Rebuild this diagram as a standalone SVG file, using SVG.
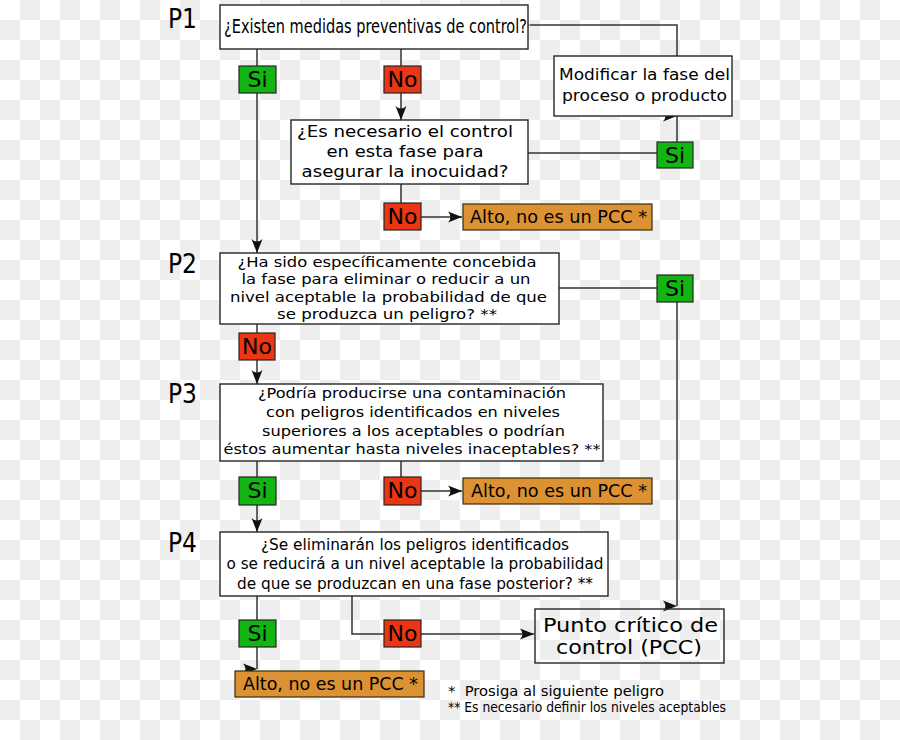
<svg xmlns="http://www.w3.org/2000/svg" width="900" height="740" viewBox="0 0 900 740">
<style>
.box{fill:#fff;stroke:#262626;stroke-width:1.4}
.open{fill:none;stroke:#262626;stroke-width:1.4}
.si{fill:#12b512;stroke:#262626;stroke-width:1.2}
.no{fill:#ec3512;stroke:#262626;stroke-width:1.2}
.alto{fill:#dc9233;stroke:#3a2a10;stroke-width:1.2}
.lbl{font-family:"DejaVu Sans","Liberation Sans",sans-serif;font-size:22px;fill:#000;text-anchor:middle}
.t{font-family:"DejaVu Sans","Liberation Sans",sans-serif;fill:#000;text-anchor:middle}
.c{font-family:"DejaVu Sans Condensed","DejaVu Sans","Liberation Sans",sans-serif;font-stretch:condensed;fill:#000}
.p{font-family:"DejaVu Sans Condensed","DejaVu Sans","Liberation Sans",sans-serif;font-stretch:condensed;font-size:26px;fill:#000}
.ln{fill:none;stroke:#333;stroke-width:1.5}
</style>
<defs>
<pattern id="chk" width="40" height="40" patternUnits="userSpaceOnUse">
<rect width="40" height="40" fill="#ffffff"/>
<rect x="20" y="0" width="20" height="20" fill="#eeeeee"/>
<rect x="0" y="20" width="20" height="20" fill="#eeeeee"/>
</pattern>
<marker id="arr" viewBox="-15 -6 16 12" markerWidth="16" markerHeight="12" refX="0" refY="0" orient="auto" markerUnits="userSpaceOnUse">
<path d="M0,0 L-14,-5.5 Q-9,0 -14,5.5 Z" fill="#111"/>
</marker>
<marker id="arrR" viewBox="-15 -6 16 12" markerWidth="16" markerHeight="12" refX="0" refY="0" orient="0" markerUnits="userSpaceOnUse">
<path d="M0,0 L-14,-5.5 Q-9,0 -14,5.5 Z" fill="#111"/>
</marker>
</defs>
<rect width="900" height="740" fill="url(#chk)"/>

<g id="labels">
<text class="p" x="168" y="28">P1</text>
<text class="p" x="168" y="273">P2</text>
<text class="p" x="168" y="403">P3</text>
<text class="p" x="168" y="552">P4</text>
</g>

<g id="connectors">
<path class="ln" d="M257,49 V66"/>
<path class="ln" d="M257,93 V253" marker-end="url(#arr)"/>
<path class="ln" d="M401,49 V66"/>
<path class="ln" d="M401,93 V120" marker-end="url(#arr)"/>
<path class="ln" d="M401,184 V203"/>
<path class="ln" d="M421,217 H462" marker-end="url(#arr)"/>
<path class="ln" d="M528,153 H657"/>
<path class="ln" d="M677,142 V116" marker-end="url(#arrR)"/>
<path class="ln" d="M677,56 V25 H530" marker-end="url(#arrR)"/>
<path class="ln" d="M559,288 H657"/>
<path class="ln" d="M677,302 V606" marker-end="url(#arrR)"/>
<path class="ln" d="M257,324 V333"/>
<path class="ln" d="M257,360 V384" marker-end="url(#arr)"/>
<path class="ln" d="M257,461 V477"/>
<path class="ln" d="M257,505 V532" marker-end="url(#arr)"/>
<path class="ln" d="M401,461 V477"/>
<path class="ln" d="M421,491 H462" marker-end="url(#arr)"/>
<path class="ln" d="M257,596 V620"/>
<path class="ln" d="M257,647 V669" marker-end="url(#arrR)"/>
<path class="ln" d="M352,596 V634 H384"/>
<path class="ln" d="M421,634 H534" marker-end="url(#arr)"/>
</g>

<g id="p1">
<rect class="box" x="220" y="5" width="308" height="44"/>
<text class="c" x="224" y="33" font-size="19" textLength="303" lengthAdjust="spacingAndGlyphs">¿Existen medidas preventivas de control?</text>
</g>
<g id="p1-si">
<rect class="si" x="239" y="66" width="37" height="27"/>
<text class="lbl" x="257.5" y="87">Si</text>
</g>
<g id="p1-no">
<rect class="no" x="384" y="66" width="37" height="27"/>
<text class="lbl" x="402.5" y="87">No</text>
</g>
<g id="q-necesario">
<rect class="box" x="291" y="120" width="237" height="64"/>
<text class="t" x="405" y="137" font-size="15" textLength="216" lengthAdjust="spacingAndGlyphs">¿Es necesario el control</text>
<text class="t" x="405" y="157" font-size="15" textLength="157" lengthAdjust="spacingAndGlyphs">en esta fase para</text>
<text class="t" x="405" y="177" font-size="15" textLength="207" lengthAdjust="spacingAndGlyphs">asegurar la inocuidad?</text>
</g>
<g id="modificar">
<rect class="box" x="554" y="56" width="178" height="60"/>
<text class="t" x="644.5" y="80" font-size="16" textLength="171" lengthAdjust="spacingAndGlyphs">Modificar la fase del</text>
<text class="t" x="644.5" y="101" font-size="16" textLength="165" lengthAdjust="spacingAndGlyphs">proceso o producto</text>
</g>
<g id="q-si">
<rect class="si" x="657" y="142" width="36" height="26"/>
<text class="lbl" x="675" y="163">Si</text>
</g>
<g id="q-no">
<rect class="no" x="384" y="203" width="37" height="27"/>
<text class="lbl" x="402.5" y="224">No</text>
</g>
<g id="alto1">
<rect class="alto" x="463" y="204" width="189" height="26"/>
<text class="t" x="558.5" y="223" font-size="17" textLength="177" lengthAdjust="spacingAndGlyphs">Alto, no es un PCC *</text>
</g>

<g id="p2">
<rect class="box" x="220" y="253" width="339" height="71"/>
<text class="t" x="387" y="267" font-size="14" textLength="299" lengthAdjust="spacingAndGlyphs">¿Ha sido específicamente concebida</text>
<text class="t" x="386" y="284" font-size="14" textLength="289" lengthAdjust="spacingAndGlyphs">la fase para eliminar o reducir a un</text>
<text class="t" x="388.5" y="302" font-size="14" textLength="317" lengthAdjust="spacingAndGlyphs">nivel aceptable la probabilidad de que</text>
<text class="t" x="387" y="319" font-size="14" textLength="220" lengthAdjust="spacingAndGlyphs">se produzca un peligro? **</text>
</g>
<g id="p2-si">
<rect class="si" x="657" y="275" width="36" height="27"/>
<text class="lbl" x="675" y="296">Si</text>
</g>
<g id="p2-no">
<rect class="no" x="239" y="333" width="36" height="27"/>
<text class="lbl" x="257" y="354">No</text>
</g>

<g id="p3">
<rect class="box" x="220" y="384" width="383" height="77"/>
<text class="t" x="412" y="398" font-size="14" textLength="308" lengthAdjust="spacingAndGlyphs">¿Podría producirse una contaminación</text>
<text class="t" x="413" y="417" font-size="14" textLength="294" lengthAdjust="spacingAndGlyphs">con peligros identificados en niveles</text>
<text class="t" x="413.5" y="436" font-size="14" textLength="303" lengthAdjust="spacingAndGlyphs">superiores a los aceptables o podrían</text>
<text class="t" x="412" y="454" font-size="14" textLength="377" lengthAdjust="spacingAndGlyphs">éstos aumentar hasta niveles inaceptables? **</text>
</g>
<g id="p3-si">
<rect class="si" x="239" y="477" width="37" height="28"/>
<text class="lbl" x="257.5" y="498">Si</text>
</g>
<g id="p3-no">
<rect class="no" x="384" y="477" width="37" height="28"/>
<text class="lbl" x="402.5" y="498">No</text>
</g>
<g id="alto2">
<rect class="alto" x="463" y="478" width="189" height="26"/>
<text class="t" x="559" y="497" font-size="17" textLength="176" lengthAdjust="spacingAndGlyphs">Alto, no es un PCC *</text>
</g>

<g id="p4">
<rect class="box" x="220" y="532" width="388" height="64"/>
<text class="c" x="415" y="550" font-size="16" text-anchor="middle" textLength="308" lengthAdjust="spacingAndGlyphs">¿Se eliminarán los peligros identificados</text>
<text class="c" x="415" y="569" font-size="16" text-anchor="middle" textLength="377" lengthAdjust="spacingAndGlyphs">o se reducirá a un nivel aceptable la probabilidad</text>
<text class="c" x="415" y="589" font-size="16" text-anchor="middle" textLength="356" lengthAdjust="spacingAndGlyphs">de que se produzcan en una fase posterior? **</text>
</g>
<g id="p4-si">
<rect class="si" x="239" y="620" width="37" height="27"/>
<text class="lbl" x="257.5" y="641">Si</text>
</g>
<g id="p4-no">
<rect class="no" x="384" y="620" width="37" height="27"/>
<text class="lbl" x="402.5" y="641">No</text>
</g>
<g id="alto3">
<rect class="alto" x="235" y="671" width="189" height="26"/>
<text class="c" x="330.5" y="690" font-size="18" text-anchor="middle" textLength="175" lengthAdjust="spacingAndGlyphs">Alto, no es un PCC *</text>
</g>
<g id="pcc">
<rect class="open" x="535" y="609" width="189" height="54"/>
<text class="t" x="630.5" y="632" font-size="20" textLength="175" lengthAdjust="spacingAndGlyphs">Punto crítico de</text>
<text class="t" x="629" y="654" font-size="20" textLength="146" lengthAdjust="spacingAndGlyphs">control (PCC)</text>
</g>
<g id="notes">
<text x="448" y="696" font-family="DejaVu Sans, Liberation Sans, sans-serif" font-size="14" textLength="216" lengthAdjust="spacingAndGlyphs">*&#160; Prosiga al siguiente peligro</text>
<text class="c" x="448" y="712" font-size="14" textLength="278" lengthAdjust="spacingAndGlyphs">** Es necesario definir los niveles aceptables</text>
</g>
</svg>
